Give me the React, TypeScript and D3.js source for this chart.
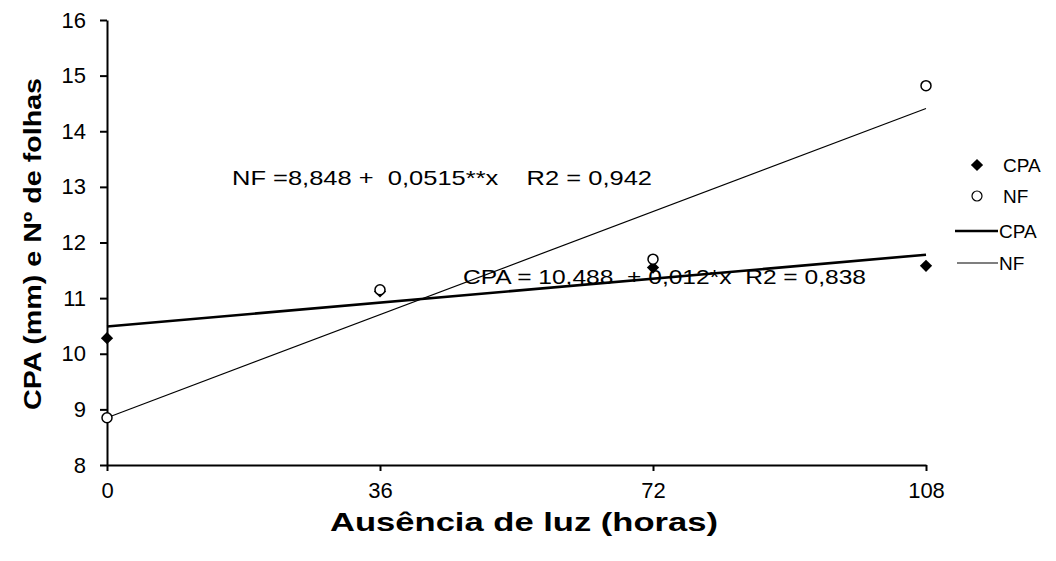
import { useEffect, useRef } from 'react';
import * as d3 from 'd3';

const HOURS = [0, 36, 72, 108];
const CPA = [10.28, 11.12, 11.55, 11.58];
const NF = [8.85, 11.15, 11.7, 14.82];
// trend lines, value at 0 h and at 108 h
const TREND_X = [0, 108];
const CPA_TREND = [10.49, 11.78];
const NF_TREND = [8.85, 14.41];
const Y_TICKS = [8, 9, 10, 11, 12, 13, 14, 15, 16];

const WIDTH = 1056;
const HEIGHT = 561;
const FONT = '"Liberation Sans", Arial, sans-serif';

export default function App() {
  const svgRef = useRef<SVGSVGElement>(null);

  useEffect(() => {
    const svg = d3.select(svgRef.current);
    svg.selectAll('*').remove();
    svg.style('font-family', FONT);

    const x = d3.scaleLinear().domain([0, 108]).range([107, 926]);
    const y = d3.scaleLinear().domain([8, 16]).range([465, 20]);

    // axes -----------------------------------------------------------------
    const yAxis = d3.axisLeft(y).tickValues(Y_TICKS).tickSize(7).tickSizeOuter(0).tickPadding(14);
    svg
      .append('g')
      .attr('transform', `translate(${x(0)},0)`)
      .call(yAxis)
      .call((g) => g.selectAll('line, path').attr('stroke', '#000').attr('stroke-width', 2))
      .selectAll('text')
      .style('font-size', '22px')
      .style('font-family', FONT)
      .attr('fill', '#000');

    const xAxis = d3.axisBottom(x).tickValues(HOURS).tickSize(6).tickSizeOuter(0).tickPadding(11);
    svg
      .append('g')
      .attr('transform', `translate(0,${y(8)})`)
      .call(xAxis)
      .call((g) => g.selectAll('line, path').attr('stroke', '#000').attr('stroke-width', 2))
      .selectAll('text')
      .style('font-size', '22px')
      .style('font-family', FONT)
      .attr('fill', '#000');

    // trend lines ------------------------------------------------------------
    const line = d3
      .line<number>()
      .x((_, i) => x(TREND_X[i]))
      .y((v) => y(v));

    svg
      .append('path')
      .attr('d', line(NF_TREND))
      .attr('fill', 'none')
      .attr('stroke', '#000')
      .attr('stroke-width', 1.2);
    svg
      .append('path')
      .attr('d', line(CPA_TREND))
      .attr('fill', 'none')
      .attr('stroke', '#000')
      .attr('stroke-width', 2.6);

    // points ---------------------------------------------------------------
    const diamond = d3.symbol().type(d3.symbolSquare).size(75);
    svg
      .selectAll('path.cpa')
      .data(CPA)
      .join('path')
      .attr('class', 'cpa')
      .attr('d', diamond)
      .attr('transform', (v, i) => `translate(${x(HOURS[i])},${y(v)}) rotate(45)`)
      .attr('fill', '#000');

    svg
      .selectAll('circle.nf')
      .data(NF)
      .join('circle')
      .attr('class', 'nf')
      .attr('cx', (_, i) => x(HOURS[i]))
      .attr('cy', (v) => y(v))
      .attr('r', 5)
      .attr('fill', '#fff')
      .attr('stroke', '#000')
      .attr('stroke-width', 1.5);

    // equations ------------------------------------------------------------
    svg
      .append('text')
      .attr('x', 232)
      .attr('y', 185)
      .attr('textLength', 420)
      .attr('lengthAdjust', 'spacingAndGlyphs')
      .style('font-size', '21px')
      .attr('xml:space', 'preserve')
      .text('NF =8,848 +  0,0515**x    R2 = 0,942');
    svg
      .append('text')
      .attr('x', 463)
      .attr('y', 284)
      .attr('textLength', 403)
      .attr('lengthAdjust', 'spacingAndGlyphs')
      .style('font-size', '21px')
      .attr('xml:space', 'preserve')
      .text('CPA = 10,488  + 0,012*x  R2 = 0,838');

    // legend ---------------------------------------------------------------
    const legend = svg.append('g').style('font-size', '19px');
    legend.append('path').attr('d', diamond).attr('transform', 'translate(977,165) rotate(45)').attr('fill', '#000');
    legend.append('text').attr('x', 1003).attr('y', 172).text('CPA');
    legend
      .append('circle')
      .attr('cx', 977)
      .attr('cy', 196)
      .attr('r', 5)
      .attr('fill', '#fff')
      .attr('stroke', '#000')
      .attr('stroke-width', 1.2);
    legend.append('text').attr('x', 1003).attr('y', 203).text('NF');
    legend.append('line').attr('x1', 955).attr('x2', 998).attr('y1', 231).attr('y2', 231).attr('stroke', '#000').attr('stroke-width', 2.6);
    legend.append('text').attr('x', 999).attr('y', 238).text('CPA');
    legend.append('line').attr('x1', 957).attr('x2', 998).attr('y1', 263).attr('y2', 263).attr('stroke', '#000').attr('stroke-width', 1.2);
    legend.append('text').attr('x', 999).attr('y', 270).text('NF');

    // axis titles ----------------------------------------------------------
    svg
      .append('text')
      .attr('x', 330)
      .attr('y', 531)
      .attr('textLength', 388)
      .attr('lengthAdjust', 'spacingAndGlyphs')
      .style('font-size', '25px')
      .style('font-weight', 'bold')
      .text('Ausência de luz (horas)');
    svg
      .append('text')
      .attr('transform', `translate(41,410) rotate(-90)`)
      .attr('textLength', 332)
      .attr('lengthAdjust', 'spacingAndGlyphs')
      .style('font-size', '24px')
      .style('font-weight', 'bold')
      .text('CPA (mm) e Nº de folhas');
  }, []);

  return (
    <div style={{ margin: -8 }}>
      <svg ref={svgRef} width={WIDTH} height={HEIGHT} style={{ display: 'block', background: '#fff' }} />
    </div>
  );
}
